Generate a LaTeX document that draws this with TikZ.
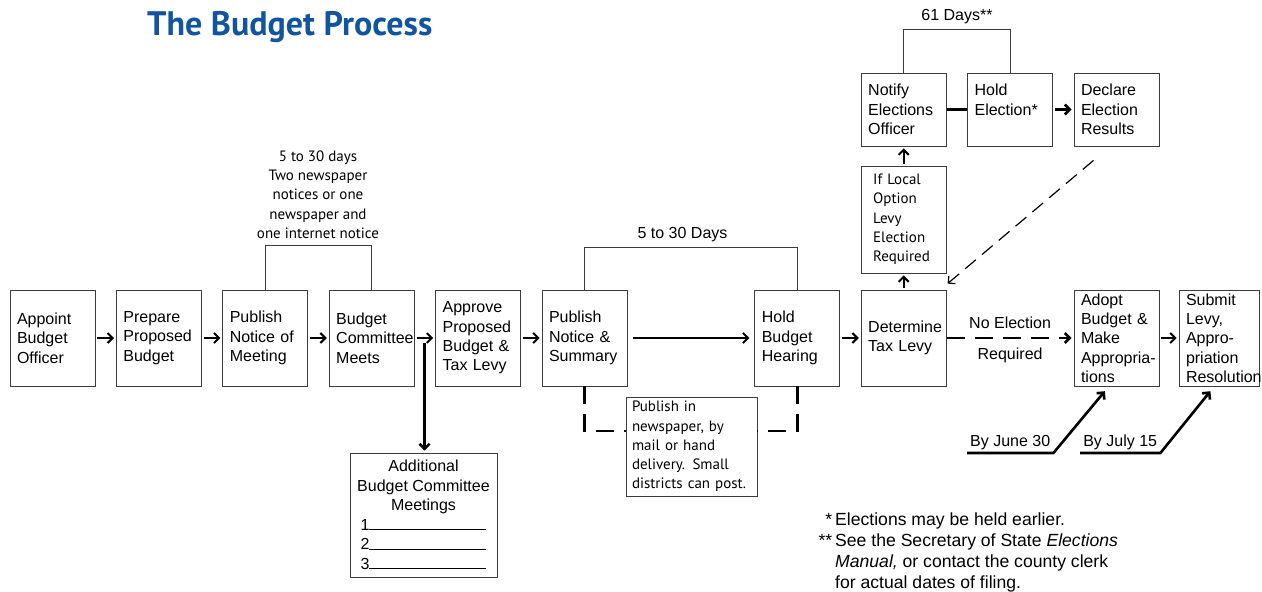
\documentclass[tikz,border=0pt]{standalone}
\usepackage{fontspec}
\setmainfont{Liberation Sans}
\newfontfamily\myriad{PT Sans}
\usetikzlibrary{arrows.meta}
\definecolor{titleblue}{RGB}{18,84,158}
\definecolor{boxgray}{RGB}{60,60,60}
\newcommand{\boxfont}{\fontsize{16}{19.3}\selectfont}
\newcommand{\notefont}{\myriad\fontsize{15}{19.3}\selectfont}
\newcommand{\titlefont}{\myriad\bfseries\fontsize{34}{40}\selectfont}
\hyphenpenalty=10000
\exhyphenpenalty=10000
\tikzstyle{block} = [rectangle, draw=boxgray, line width=0.8pt,
    minimum width=85pt, text width=71pt, inner xsep=7pt, align=left, minimum height=96pt]
\tikzstyle{smallblock} = [rectangle, draw=boxgray, line width=0.8pt,
    minimum width=85pt, text width=61pt, inner xsep=12pt, align=left, minimum height=107pt, font=\notefont]
\tikzstyle{noteblock} = [rectangle, draw=boxgray, line width=0.8pt,
    minimum width=131pt, text width=119pt, inner xsep=6pt, align=left, minimum height=99pt, font=\notefont]
\tikzstyle{line} = [draw, line width=2pt, -{Straight Barb[length=5pt,width=10pt]}, shorten <=2pt, shorten >=2pt]
\tikzstyle{bracket} = [draw=boxgray, line width=0.8pt]
\tikzstyle{dashedbracket} = [draw, line width=2.6pt, dash pattern=on 18pt off 10pt]
\tikzstyle{datelabel} = [anchor=south west, minimum width=86pt, inner xsep=0pt, inner ysep=3pt]
\tikzstyle{dateline} = [draw, line width=2.6pt, -{Straight Barb[length=5pt,width=10pt]}, shorten >=1pt]

\begin{document}
\begin{tikzpicture}[x=1pt, y=-1pt, node distance=106.4pt, auto, font=\boxfont]
  \useasboundingbox (0,0) rectangle (1262,592);
  % Title
  \node[font=\titlefont, text=titleblue, anchor=west, inner sep=0pt] (title) at (147,27) {The Budget Process};

  % Place nodes
  % Main row
  \node[block] (appoint) at (52.5,338) {Appoint\\Budget\\Officer};
  \node[block, right of=appoint] (prepare) {Prepare\\Proposed\\Budget};
  \node[block, right of=prepare] (notice) {Publish\\Notice of\\Meeting};
  \node[block, right of=notice] (meets) {Budget\\Committee\\Meets};
  \node[block, right of=meets] (approve) {Approve\\Proposed\\Budget \&\\Tax Levy};
  \node[block, right of=approve] (summary) {Publish\\Notice \&\\Summary};
  \node[block, right of=summary, node distance=212.8pt] (hearing) {Hold\\Budget\\Hearing};
  \node[block, right of=hearing] (taxlevy) {Determine\\Tax Levy};
  \node[block, right of=taxlevy, node distance=212.8pt] (adopt) {Adopt\\Budget \&\\Make\\Appropria-\\tions};
  \node[block, right of=adopt, node distance=102.5pt, minimum width=80pt, text width=66pt] (submit) {Submit\\Levy,\\Appro-\\priation\\Resolution};
  % Election branch
  \node[smallblock, above of=taxlevy, node distance=118.5pt] (localopt) {If Local\\Option\\Levy\\Election\\Required};
  \node[block, above of=localopt, node distance=110pt, minimum height=73pt] (notify) {Notify\\Elections\\Officer};
  \node[block, right of=notify, minimum height=73pt] (vote) {Hold\\Election*\\\mbox{}};
  \node[block, right of=vote, minimum height=73pt] (declare) {Declare\\Election\\Results};
  % Side boxes
  \node[noteblock] (pubnote) at (691.5,446.5) {Publish in\\newspaper, by\\mail or hand\\delivery. Small\\districts can post.};
  \node[draw=boxgray, line width=0.8pt, minimum width=147pt, minimum height=124pt, align=center,
    font=\fontsize{16}{19.5}\selectfont] (extra) at (423.5,515)
    {Additional\\Budget Committee\\Meetings\\1\rule{117pt}{1.2pt}\\2\rule{117pt}{1.2pt}\\3\rule{117pt}{1.2pt}};
  % Labels
  \node[font=\notefont, align=center] (noticedays) at (318,194.5) {5 to 30 days\\Two newspaper\\notices or one\\newspaper and\\one internet notice};
  \node (hearingdays) at (682.5,235) {5 to 30 Days};
  \node (electiondays) at (957,17) {61 Days**};
  \node[datelabel] (june) at (967,453) {By June 30};
  \node[datelabel, minimum width=80pt] (july) at (1080,453) {By July 15};
  \node[anchor=north west, align=left, inner sep=0pt, font=\fontsize{17.6}{21}\selectfont] (notes) at (818,513)
    {\makebox[17pt][r]{*\,}Elections may be held earlier.\\
     \makebox[17pt][r]{**\,}See the Secretary of State \textit{Elections}\\
     \hspace*{17pt}\textit{Manual,} or contact the county clerk\\
     \hspace*{17pt}for actual dates of filing.};

  % Draw edges
  \path [line] (appoint) -- (prepare);
  \path [line] (prepare) -- (notice);
  \path [line] (notice) -- (meets);
  \path [line] (meets) -- (approve);
  \path [line] (approve) -- (summary);
  \path [line, shorten <=6pt, shorten >=5pt] (summary) -- (hearing);
  \path [line] (hearing) -- (taxlevy);
  \path [line, line width=2.6pt, dash pattern=on 18pt off 10pt, shorten <=0pt]
    (taxlevy) -- node[above=5pt] (noelection) {No Election} node[below=5pt] (required) {Required} (adopt);
  \path [line] (adopt) -- (submit);

  \path [line] (taxlevy) -- (localopt);
  \path [line] (localopt) -- (notify);
  \draw [line width=2.6pt] (notify) -- (vote);
  \path [line, line width=2.6pt] (vote) -- (declare);
  \path [line, line width=1.2pt, dash pattern=on 14pt off 8pt, shorten <=0pt, shorten >=0pt]
    ([xshift=-23pt,yshift=-14pt]declare.south) -- ([xshift=1pt,yshift=6pt]taxlevy.north east);

  \path [bracket] (notice.north) -- ++(0,-44) -| (meets.north);
  \path [bracket] (summary.north) -- ++(0,-42) -| (hearing.north);
  \path [bracket] (notify.north) -- ++(0,-43) -| (vote.north);

  \path [dashedbracket] (summary.south) |- ([yshift=15.5pt]pubnote.west);
  \path [dashedbracket] (hearing.south) |- ([yshift=15.5pt]pubnote.east);

  \coordinate (split) at ([xshift=10pt,yshift=43pt]meets.south east);
  \path [line, line width=2.6pt, shorten <=0pt] (split) -- (split |- extra.north);

  \path [dateline] (june.south west) -- (june.south east) -- ([xshift=-11pt,yshift=-4pt]adopt.south);
  \path [dateline] (july.south west) -- (july.south east) -- ([xshift=-8pt,yshift=-4pt]submit.south);
\end{tikzpicture}
\end{document}
